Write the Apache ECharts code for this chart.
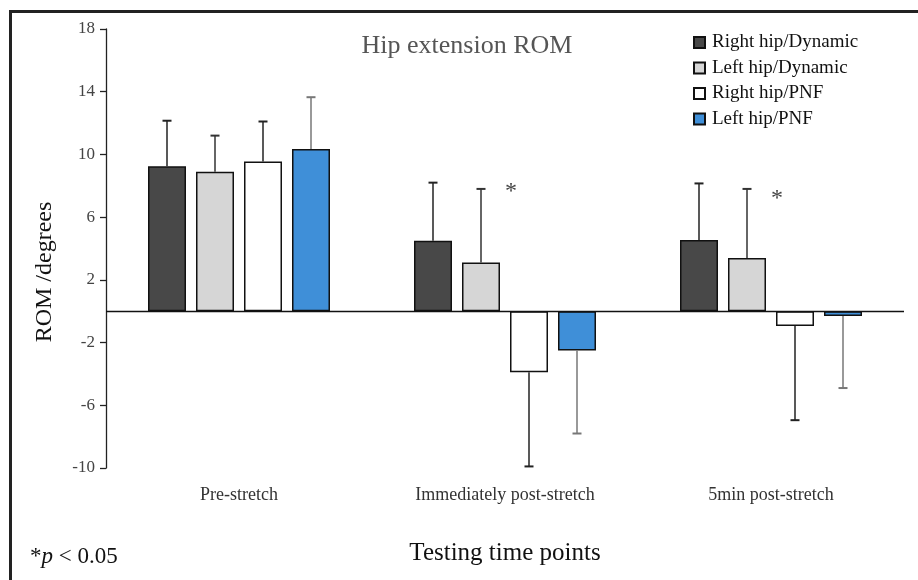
<!DOCTYPE html>
<html>
<head>
<meta charset="utf-8">
<script src="https://cdn.jsdelivr.net/npm/echarts@6/dist/echarts.min.js"></script>
<style>html,body{margin:0;padding:0;background:#fff}#c{width:918px;height:580px}</style>
</head>
<body>
<div id="c"></div>
<script>
var categories = ['Pre-stretch', 'Immediately post-stretch', '5min post-stretch'];
var seriesNames = ['Right hip/Dynamic', 'Left hip/Dynamic', 'Right hip/PNF', 'Left hip/PNF'];
var rightDynamic = [9.25, 4.5, 4.55];
var rightDynamicSD = [2.9, 3.7, 3.6];
var leftDynamic = [8.9, 3.1, 3.4];
var leftDynamicSD = [2.3, 4.7, 4.4];
var rightPNF = [9.55, -3.9, -0.95];
var rightPNFSD = [2.55, 6.0, 6.0];
var leftPNF = [10.35, -2.5, -0.3];
var leftPNFSD = [3.3, 5.3, 4.6];
var yTicks = [-10, -6, -2, 2, 6, 10, 14, 18];
var sigCategories = [1, 2];
var sigY = [7.6, 7.15];

var means = [rightDynamic, leftDynamic, rightPNF, leftPNF];
var sds = [rightDynamicSD, leftDynamicSD, rightPNFSD, leftPNFSD];
var colors = ['#484848', '#d6d6d6', '#ffffff', '#3f8fd8'];
var errColors = ['#222', '#333', '#222', '#777'];
var BAR_W = 38, GAP = 10;
var serif = '"Liberation Serif","Times New Roman",serif';

var chart = echarts.init(document.getElementById('c'), null, {renderer: 'canvas'});

var series = [];
means.forEach(function (m, i) {
  var s = {
    name: seriesNames[i], type: 'bar', data: m,
    barWidth: BAR_W, barGap: (GAP / BAR_W * 100) + '%',
    itemStyle: {color: colors[i], borderColor: '#111', borderWidth: 1.5},
    emphasis: {disabled: true}, z: 2
  };
  if (i === 0) {
    s.markLine = {silent: true, symbol: 'none', label: {show: false},
      lineStyle: {color: '#111', width: 1.3, type: 'solid'}, data: [{yAxis: 0}], z: 5};
  }
  series.push(s);
});

var errData = [];
means.forEach(function (m, i) {
  m.forEach(function (v, c) { errData.push([c, v, sds[i][c], i]); });
});
series.push({
  type: 'custom', name: 'err', data: errData, z: 3, silent: true,
  renderItem: function (params, api) {
    var c = api.value(0), v = api.value(1), sd = api.value(2), s = api.value(3);
    var end = v >= 0 ? v + sd : v - sd;
    var p0 = api.coord([c, v]), p1 = api.coord([c, end]);
    var x = p0[0] + (s - 1.5) * (BAR_W + GAP);
    var st = {stroke: errColors[s], lineWidth: 1.5};
    return {type: 'group', children: [
      {type: 'line', shape: {x1: x, y1: p0[1], x2: x, y2: p1[1]}, style: st},
      {type: 'line', shape: {x1: x - 4.5, y1: p1[1], x2: x + 4.5, y2: p1[1]}, style: {stroke: errColors[s], lineWidth: 2}}
    ]};
  }
});

var sigData = sigCategories.map(function (c, k) { return [c, sigY[k]]; });
series.push({
  type: 'custom', name: 'sig', data: sigData, z: 4, silent: true,
  renderItem: function (params, api) {
    var p = api.coord([api.value(0), api.value(1)]);
    return {type: 'text', x: p[0] + 6, y: p[1],
      style: {text: '*', font: '24px ' + serif, fill: '#444', align: 'center', verticalAlign: 'middle'}};
  }
});

chart.setOption({
  animation: false,
  backgroundColor: '#fff',
  grid: {left: 106, right: 14, top: 29, bottom: 112, containLabel: false},
  legend: {
    data: seriesNames, orient: 'vertical', left: 693, top: 33, padding: 0,
    itemWidth: 11, itemHeight: 11, itemGap: 6.5, icon: 'rect',
    textStyle: {fontFamily: serif, fontSize: 19, color: '#111', padding: [0, 0, 0, 2]},
    selectedMode: false
  },
  xAxis: {
    type: 'category', data: categories,
    axisLine: {show: false, onZero: false}, axisTick: {show: false},
    axisLabel: {fontFamily: serif, fontSize: 18, color: '#333', margin: 18},
    name: 'Testing time points', nameLocation: 'middle', nameGap: 73,
    nameTextStyle: {fontFamily: serif, fontSize: 25, color: '#111'}
  },
  yAxis: {
    type: 'value', min: -10, max: 18,
    axisLine: {show: true, lineStyle: {color: '#222', width: 1.3}},
    axisTick: {show: true, length: 6, customValues: yTicks, lineStyle: {color: '#222', width: 1.3}},
    axisLabel: {customValues: yTicks, fontFamily: serif, fontSize: 17, color: '#444', margin: 11},
    splitLine: {show: false}
  },
  graphic: [
    {type: 'line', shape: {x1: 10.5, y1: 10, x2: 10.5, y2: 580}, style: {stroke: '#222', lineWidth: 3}},
    {type: 'line', shape: {x1: 9, y1: 11.5, x2: 918, y2: 11.5}, style: {stroke: '#222', lineWidth: 3}},
    {type: 'text', x: 467, y: 46, style: {text: 'Hip extension ROM', font: '26px ' + serif, fill: '#555', align: 'center', verticalAlign: 'middle'}},
    {type: 'text', x: 45, y: 272, rotation: Math.PI / 2, style: {text: 'ROM /degrees', font: '24px ' + serif, fill: '#111', align: 'center', verticalAlign: 'middle'}},
    {type: 'text', x: 30, y: 557, style: {
      text: '{a|*}{b|p}{a| < 0.05}', verticalAlign: 'middle',
      rich: {a: {fontFamily: serif, fontSize: 23, fill: '#111'}, b: {fontFamily: serif, fontSize: 23, fontStyle: 'italic', fill: '#111'}}
    }}
  ],
  series: series
});
</script>
</body>
</html>
